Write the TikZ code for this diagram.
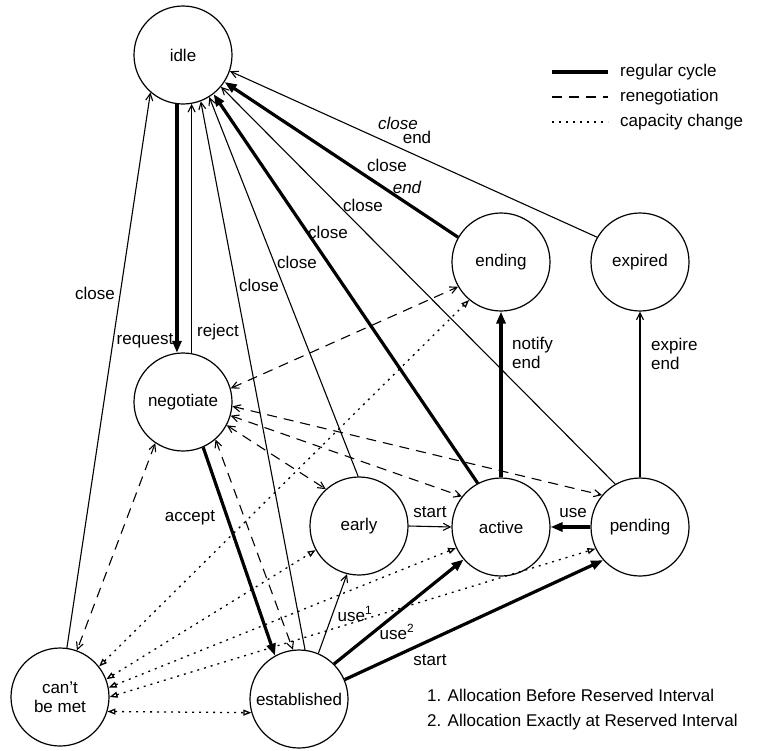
\documentclass[tikz,border=0pt]{standalone}
\usepackage{fontspec}
\setmainfont{Liberation Sans}
\usetikzlibrary{arrows.meta}
\begin{document}
\begin{tikzpicture}[x=1pt,y=-1pt,
  font=\fontsize{17}{19}\selectfont,
  state/.style={draw, circle, line width=1.2pt, minimum size=98pt, inner sep=0pt, align=center},
  lbl/.style={inner sep=0pt},
  regular/.style={line width=3.2pt, -{Triangle[length=12pt,width=9pt]}},
  plain/.style={line width=1.1pt, -{Straight Barb[length=7pt,width=7pt]}},
  reneg/.style={line width=1.1pt, dash pattern=on 10pt off 7pt,
    {Straight Barb[length=7pt,width=7pt]}-{Straight Barb[length=7pt,width=7pt]}},
  capchg/.style={line width=1.3pt, dash pattern=on 2pt off 5pt,
    {Triangle[open,length=8pt,width=6pt]}-{Triangle[open,length=8pt,width=6pt]}},
]
\fill[white] (0,0) rectangle (767,750);
\useasboundingbox (0,0) rectangle (767,750);

% states
\node[state] (idle)        at (183,55)  {idle};
\node[state] (ending)      at (501,262) {ending};
\node[state] (expired)     at (640,262) {expired};
\node[state] (negotiate)   at (183,402) {negotiate};
\node[state] (early)       at (359,526) {early};
\node[state] (active)      at (501,527) {active};
\node[state] (pending)     at (640,527) {pending};
\node[state] (cant)        at (60,697)  {can't\\be met};
\node[state] (established) at (299,699) {established};

% regular cycle and plain transitions
\draw[regular] (idle.263) -- (negotiate.97);
\draw[plain] (negotiate.80) -- (idle.-80);
\draw[plain] (cant.82) -- (idle.229);
\draw[plain] (established.83) -- (idle.-69);
\draw[plain] (early.91) -- (idle.-58);
\draw[regular] (active.118) -- (idle.-52);
\draw[plain] (pending.120) -- (idle.-40);
\draw[regular] (ending.150) -- (idle.-33);
\draw[plain] (expired.150) -- (idle.-19);
\draw[regular] (active.90) -- (ending.-90);
\draw[plain] (pending.90) -- (expired.-90);
\draw[plain] (early.0) -- (active.180);
\draw[regular] (pending.180) -- (active.0);
\draw[regular] (negotiate.-66) -- (established.119);
\draw[plain] (established.67) -- (early.-104);
\draw[regular] (established.45) -- (active.221);
\draw[regular] (established.23) -- (pending.222);

% renegotiation
\draw[reneg] (negotiate.16) -- (ending.210);
\draw[reneg] (negotiate.-5) -- (pending.140);
\draw[reneg] (negotiate.-16) -- (active.142);
\draw[reneg] (negotiate.-28) -- (early.132);
\draw[reneg] (negotiate.-49) -- (established.97);
\draw[reneg] (negotiate.236) -- (cant.70);

% capacity change
\draw[capchg] (cant.38) -- (ending.230);
\draw[capchg] (cant.21) -- (early.209);
\draw[capchg] (cant.11) -- (active.205);
\draw[capchg] (cant.0) -- (pending.206);
\draw[capchg] (cant.-17) -- (established.196);

% transition labels
\node[lbl] (lrequest) at (145,341) {request};
\node[lbl] (lreject) at (218,332) {reject};
\node[lbl] (lclose1) at (95,293) {close};
\node[lbl] (lclose2) at (259,285) {close};
\node[lbl] (lclose3) at (297,262) {close};
\node[lbl] (lclose4) at (328,232) {close};
\node[lbl] (lclose5) at (363,205) {close};
\node[lbl] (lclose6) at (387,165) {close};
\node[lbl] (lend6) at (407,187) {\itshape end};
\node[lbl] (lclose7) at (398,123) {\itshape close};
\node[lbl] (lend7) at (417,137) {end};
\node[lbl, anchor=west, align=left] (lnotify) at (512,353) {notify\\end};
\node[lbl, anchor=west, align=left] (lexpire) at (651,354) {expire\\end};
\node[lbl] (lstart1) at (430,512) {start};
\node[lbl] (luse) at (573,513) {use};
\node[lbl] (laccept) at (190,518) {accept};
\node[lbl] (luse1) at (355,614) {use\textsuperscript{1}};
\node[lbl] (luse2) at (397,632) {use\textsuperscript{2}};
\node[lbl] (lstart2) at (430,660) {start};

% legend
\coordinate (k1a) at (552,72);  \coordinate (k1b) at (608,72);
\coordinate (k2a) at (552,97);  \coordinate (k2b) at (608,97);
\coordinate (k3a) at (552,122); \coordinate (k3b) at (608,122);
\draw[line width=3.2pt] (k1a) -- (k1b);
\draw[line width=1.1pt, dash pattern=on 10pt off 7pt] (k2a) -- (k2b);
\draw[line width=1.3pt, dash pattern=on 2pt off 5pt] (k3a) -- (k3b);
\node[lbl, anchor=west] (key1) at (620,72) {regular cycle};
\node[lbl, anchor=west] (key2) at (620,97) {renegotiation};
\node[lbl, anchor=west] (key3) at (620,122) {capacity change};

% footnotes
\node[lbl, anchor=west] (note1) at (427,695) {1. Allocation Before Reserved Interval};
\node[lbl, anchor=west] (note2) at (427,722) {2. Allocation Exactly at Reserved Interval};
\end{tikzpicture}
\end{document}
